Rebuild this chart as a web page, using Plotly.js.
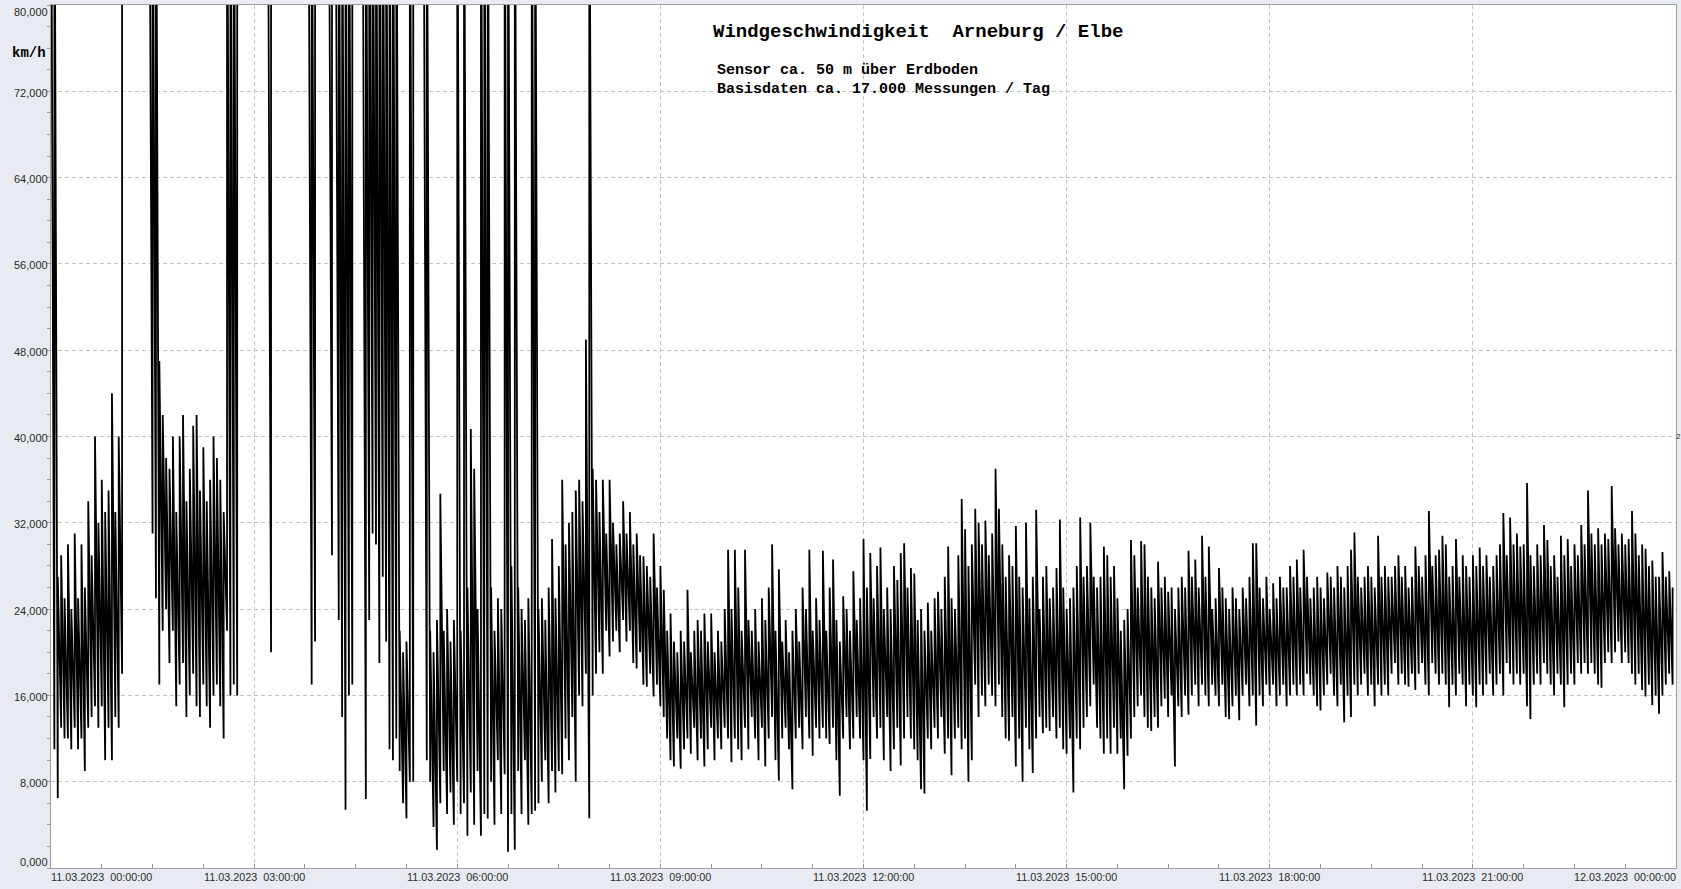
<!DOCTYPE html>
<html><head><meta charset="utf-8">
<script src="https://cdn.plot.ly/plotly-3.0.1.min.js"></script>
<style>html,body{margin:0;padding:0;background:#e8ecf2;overflow:hidden}#chart{width:1681px;height:889px}</style>
</head><body><div id="chart"></div>
<script>
// 3-minute columns over 11.03.2023 00:00 .. 24:00: lowest and highest reading (km/h) in each column.
// 100 = reading above the chart top (sensor error / off scale)
const stepMinutes = 3;
const windLow = [
100,11,6.5,13,12,12,11,13,11,12,
9,13,14,15,13,15,10,13,10,14,
13,18,100,100,100,100,100,100,100,100,
31,25,17,22,24,19,22,15,17,19,
14,16,18,15,14,17,15,13,16,17,
15,12,22,16,17,16,100,100,100,100,
100,100,100,100,100,20,100,100,100,100,
100,100,100,100,100,100,100,17,21,100,
100,100,100,29,100,23,14,5.4,16,17,
100,100,100,6.4,23,31,30,19,27,21,
11,10,12,9,6,4.6,8,8,100,100,
100,10,8,3.8,1.7,6,9,5,7,4,
8,5,6,3,7,4,9,3,5,4.6,
8,4,10,5,8.7,1.5,5,1.7,9,5,
10,4,5,5.3,6,8,10,6,9,7,
9,8.7,12,10,14,8,16,15,18,4.6,
16,18,20,18,22,19.6,21,22,20,23,
21,22,19,18.5,20,17,16.8,18,15.9,17,
15,14,12,10,9.4,12,9.2,11,12,10.6,
13,10,12,9.4,11,13,10,12,11,13,
12,9.8,12,11,10,13,11,14,12,10,
13,9.4,12,14,10,8.1,12,13,11,7.3,
12,13,11,14,12,10.4,13,12,13,12,
11.5,13,10,6.7,12,14,11,12,14,12,
10,5.3,10.1,14,12,13,10,14,9,11,
13,9.5,12,14,12,11,10,7.3,6.9,12,
11,13,12,14,10.6,12,8.6,12,13,11,
12,8,10,17,14,16,15,17,16,15,
17,14,12,11.8,14,9.4,12,8,13,11,
8.8,12,14,12.5,13,12.7,14,12,13,11,
10.6,12,7,12,11,13,14,15,17,13,
12,10.6,12,10.6,13,10.6,12,7.3,10.4,12,
14,15,16,14,13,12.7,14,13,15,15.7,
14,16,9.4,15,14,16,14.2,16,17,15,
17,16,15,17,16,15,17,14,13.8,15,
16,13.7,16,17,15,16,13.2,16,15,17,
16,17,15,16,17,15,16,17,16,17,
16,18,17,16,15,14.6,16,17,18,16,
15,17,13.5,16,14,17,16,17,18,16,
17,15,17,16,17,16,18,19,17,18,
17,16.8,18,16.5,18,19,17,16,19,18,
17,18,17,14.9,17,16,18,17,15,17,
16,14.9,17,16,17,18,16,17,18,16,
19,18,17,18,17,18,15,13.8,17,18,
17,19,18,17,16,18,17,14.9,17,18,
17,19,18,19,18,19,18,17,16.7,19,
20,19,20,21,19,20,19,18,17,18,
16.5,15.9,17,15.1,16,14.3,16,17,18,17
];
const windHigh = [
100,100,27,29,25,30,24,31,25,30,
26,34,29,40,32,36,33,35,44,33,
40,100,100,100,100,100,100,100,100,100,
100,100,47,42,38,37,40,33,40,42,
34,37,41,42,35,39,34,36,40,38,
36,33,100,100,100,100,100,100,100,100,
100,100,100,100,100,100,100,100,100,100,
100,100,100,100,100,100,100,100,100,100,
100,100,100,100,100,100,100,100,100,100,
100,100,100,100,100,100,100,100,100,100,
100,100,100,22,20,21,100,100,100,100,
100,100,22,20,23,34.7,22,24,21,23,
100,22,100,26,40.7,37,24,100,100,100,
26,22,25,24,100,100,28,100,26,24,
23,25,100,100,24,25,23,26,30.5,25,
28,36,30,32,33,35,36,34,49,100,
37,36,33,36,31,36,32,30,31,34,
31,33,30,31,29,28.9,28,27,31,26,
28,25.8,22,23.6,21,20,22,21,25.8,20,
22,23,22,23.6,21,23.6,20,22,21,24,
29.5,24,29.5,26,22,29.5,23,22,24,21,
25,23,26,30,22,27.7,21,23,20,22,
24,21,26,24,29.5,22,25,23,29.4,22,
26,28.6,23,21,25.2,24,22,27.5,23,25,
30.5,26,29.2,25,28,29.7,24,26,24,28,
26.7,29.2,30.1,26,27.8,27.3,23,24,22,24.6,
22,25,25.6,24,27,29.8,25,24,29,34.2,
31.4,28,30,33.3,32,30,32.2,29,31,37,
33.3,30,27,29,28,31.7,27,26,32,25,
27,33.2,24,27,28,25,26,27.8,32.3,26,
24,25,26,28,32.5,27,28,32,27,26,
27,29.8,29,27,28,25,22,23,24,30.4,
29,26,30.3,30,27,26,25,28.4,26,27,
25.6,26,24,26,27,26,29.4,27,28.6,26,
30.8,27,29.8,24,25,27.8,26,25,24,26,
25,24,26,25,27,30.1,30.1,26,25,27,
24,26.4,25,27,26,26,28,27,28.6,26,
29.5,27,25,26,27,26,25,27.4,27,26,
28,27,26,28,29.5,31.1,27,26,27,28,
27,26,30.8,27,28,27,27,28,29,27,
28,26,27,29.8,28,27,29,33.1,28,29,
29.5,30.8,30,27,28,30.5,27,29,28,27,
29,28,29.7,28,29,27,28,29,30,32.9,
29,32.5,30,31,29.8,30,35.7,29,28,30,
29,31.8,30.4,28,29,27,30.8,29,30.5,28,
30,29,31.8,30,35,31,30,31.5,30,31,
30.5,35.4,31.5,30,31,30,30.5,33.1,31,29,
30,29.6,28,28.5,27,27,29.3,27,27.5,26
];

const yTickValues = [0,8,16,24,32,40,48,56,64,72,80];
const yTickLabels = ['0,000','8,000','16,000','24,000','32,000','40,000','48,000','56,000','64,000','72,000','80,000'];
const gridMinutes = [0,180,360,540,720,900,1080,1260,1440];
const xLabelMinutes = [45,180,360,540,720,900,1080,1260,1395];
const xLabelTexts = ['11.03.2023\u00a0\u00a000:00:00','11.03.2023\u00a0\u00a003:00:00','11.03.2023\u00a0\u00a006:00:00','11.03.2023\u00a0\u00a009:00:00','11.03.2023\u00a0\u00a012:00:00','11.03.2023\u00a0\u00a015:00:00','11.03.2023\u00a0\u00a018:00:00','11.03.2023\u00a0\u00a021:00:00','12.03.2023\u00a0\u00a000:00:00'];
const titleText = 'Windgeschwindigkeit\u00a0 Arneburg / Elbe';
const subLines = ['Sensor ca. 50 m über Erdboden','Basisdaten ca. 17.000 Messungen / Tag'];
const unitText = 'km/h';

function stamp(min){
  const d = Math.floor(min/1440), m = min - d*1440;
  const hh = Math.floor(m/60), mm = Math.round(m%60);
  return '2023-03-' + String(11+d).padStart(2,'0') + ' ' + String(hh).padStart(2,'0') + ':' + String(mm).padStart(2,'0') + ':00';
}

const xs = [], ys = [];
for (let i = 0; i < windLow.length; i++) {
  const t = stamp(i*stepMinutes);
  xs.push(t, t);
  ys.push(windLow[i], windHigh[i]);
}

const W = 1681, H = 889, L = 51, R = 5, T = 5, B = 21;
const pw = W - L - R, ph = H - T - B;
const px2x = p => (p - L)/pw;
const px2y = p => (H - B - p)/ph;

const labFont = {family:'Liberation Sans, Arial, sans-serif', size:10.8, color:'#2a2a2a'};
const yFont = {family:'Liberation Sans, Arial, sans-serif', size:11, color:'#2a2a2a'};
const monoFont = 'Liberation Mono, Courier New, monospace';
const ann = [];
yTickValues.forEach((v,k)=>{
  let ys_ = -1.5;
  if (k === yTickValues.length-1) ys_ = -7;
  if (k === 0) ys_ = 6;
  ann.push({xref:'paper', yref:'y', x:0, y:v, xanchor:'right', yanchor:'middle', xshift:-1, yshift:ys_, text:yTickLabels[k], showarrow:false, font:yFont});
});
xLabelMinutes.forEach((m,k)=>{
  ann.push({xref:'x', yref:'paper', x:stamp(m), y:0, xanchor:'center', yanchor:'top', yshift:-1, text:xLabelTexts[k], showarrow:false, font:labFont});
});
ann.push({xref:'paper', yref:'paper', x:px2x(711), y:px2y(32), xanchor:'left', yanchor:'middle', text:'<b>'+titleText+'</b>', showarrow:false, font:{family:monoFont, size:19, color:'#000'}});
ann.push({xref:'paper', yref:'paper', x:px2x(715), y:px2y(70), xanchor:'left', yanchor:'middle', text:'<b>'+subLines[0]+'</b>', showarrow:false, font:{family:monoFont, size:15, color:'#000'}});
ann.push({xref:'paper', yref:'paper', x:px2x(715), y:px2y(90), xanchor:'left', yanchor:'middle', text:'<b>'+subLines[1]+'</b>', showarrow:false, font:{family:monoFont, size:15, color:'#000'}});
ann.push({xref:'paper', yref:'paper', x:px2x(29), y:px2y(53), xanchor:'center', yanchor:'middle', text:'<b>'+unitText+'</b>', showarrow:false, font:{family:monoFont, size:14, color:'#000'}});
ann.push({xref:'paper', yref:'y', x:1, y:40, xanchor:'left', yanchor:'middle', xshift:-1, borderpad:0, text:'2', showarrow:false, font:{family:'Liberation Sans, Arial, sans-serif', size:8, color:'#2a2a2a'}});

const trace = {type:'scatter', mode:'lines', x:xs, y:ys, line:{color:'#000', width:1.8}, hoverinfo:'skip'};

const layout = {
  width:W, height:H, margin:{l:L, r:R, t:T, b:B},
  paper_bgcolor:'#e8ecf2', plot_bgcolor:'#ffffff', showlegend:false,
  xaxis:{type:'date', range:[stamp(0), stamp(1440)], tickvals:gridMinutes.map(stamp), showticklabels:false,
    ticks:'inside', ticklen:4, tickcolor:'#999', showgrid:true, gridcolor:'#c4c4c4', griddash:'4px,3px', gridwidth:1,
    showline:true, mirror:true, linecolor:'#a0a0a0', linewidth:1, zeroline:false, fixedrange:true,
    minor:{dtick:45*60000, tick0:stamp(0), ticks:'inside', ticklen:4, tickcolor:'#999', showgrid:false}},
  yaxis:{range:[0,80], tickvals:yTickValues, showticklabels:false, ticks:'outside', ticklen:3, tickcolor:'#999',
    showgrid:true, gridcolor:'#c4c4c4', griddash:'4px,3px', gridwidth:1,
    showline:true, mirror:true, linecolor:'#a0a0a0', linewidth:1, zeroline:false, fixedrange:true,
    minor:{dtick:2, ticks:'outside', ticklen:3, tickcolor:'#999', showgrid:false}},
  shapes:[{type:'rect', xref:'paper', yref:'paper', x0:px2x(705), x1:px2x(1131), y0:px2y(97), y1:px2y(9), fillcolor:'#ffffff', line:{width:0}, layer:'between'}],
  annotations:ann
};
Plotly.newPlot('chart', [trace], layout, {staticPlot:true, displayModeBar:false});
</script></body></html>
